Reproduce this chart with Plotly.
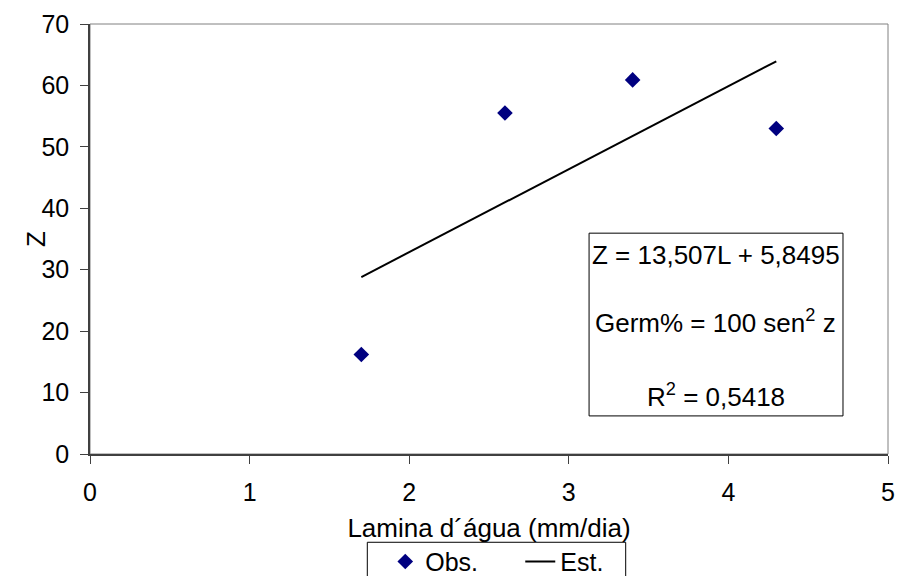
import plotly.graph_objects as go

# Data
lamina_obs = [1.7, 2.6, 3.4, 4.3]
z_obs = [16.2, 55.5, 60.9, 53.0]
lamina_est = [1.7, 2.6, 3.4, 4.3]
z_est = [28.81, 40.97, 51.77, 63.93]

x_ticks = [0, 1, 2, 3, 4, 5]
y_ticks = [0, 10, 20, 30, 40, 50, 60, 70]

font_family = "Liberation Sans, Arial, sans-serif"
FS = 26

fig = go.Figure()
fig.add_trace(go.Scatter(
    x=lamina_obs, y=z_obs, mode="markers", name="Obs.",
    marker=dict(symbol="diamond", size=12, color="#000080"),
))
fig.add_trace(go.Scatter(
    x=lamina_est, y=z_est, mode="lines", name="Est.",
    line=dict(color="black", width=2),
))

# Equation box
fig.add_shape(type="rect", xref="x", yref="y", x0=3.127, x1=4.718, y0=6.2, y1=35.95,
              line=dict(color="black", width=1), fillcolor="white", layer="above")
ann_text = ["Z = 13,507L + 5,8495", "Germ% = 100 sen<sup>2</sup> z", "R<sup>2</sup> = 0,5418"]
ann_y = [32.4, 21.5, 9.6]
for t, yv in zip(ann_text, ann_y):
    fig.add_annotation(x=3.922, y=yv, xref="x", yref="y", text=t, showarrow=False,
                       font=dict(size=FS, color="black", family=font_family))

# Y axis title
fig.add_annotation(x=0, y=0.5, xref="paper", yref="paper", text="Z", textangle=-90,
                   showarrow=False, xanchor="center", yanchor="middle", xshift=-54,
                   font=dict(size=FS, color="black", family=font_family))

# Plot border (top/right grey)
fig.add_shape(type="rect", xref="paper", yref="paper", x0=0, x1=1, y0=0, y1=1,
              line=dict(color="#808080", width=1), layer="below")

# Legend frame
fig.add_shape(type="rect", xref="paper", yref="paper", x0=0.3475, x1=0.6713,
              y0=-0.2053, y1=-0.40, line=dict(color="black", width=1),
              fillcolor="rgba(0,0,0,0)")

fig.update_layout(
    width=899, height=576,
    margin=dict(l=90, r=11, t=24, b=122, autoexpand=False),
    paper_bgcolor="white", plot_bgcolor="white",
    font=dict(family=font_family, size=FS, color="black"),
    showlegend=True,
    legend=dict(orientation="h", x=0.370, xanchor="left", y=-0.197, yanchor="top",
                borderwidth=0, bgcolor="rgba(0,0,0,0)",
                font=dict(size=25), itemwidth=30, traceorder="normal",
                entrywidth=90, entrywidthmode="pixels"),
    xaxis=dict(range=[0, 5], tickvals=x_ticks, showgrid=False, zeroline=False,
               showline=True, linecolor="#404040", linewidth=1.5,
               ticks="outside", ticklen=8, tickcolor="#404040",
               tickfont=dict(size=25), ticklabelstandoff=7,
               title=dict(text="Lamina d´água (mm/dia)", font=dict(size=FS), standoff=14)),
    yaxis=dict(range=[0, 70], tickvals=y_ticks, showgrid=False, zeroline=False,
               showline=True, linecolor="#404040", linewidth=1.5,
               ticks="outside", ticklen=8, tickcolor="#404040",
               tickfont=dict(size=25), ticklabelstandoff=6),
)

fig.write_html("out.html")
